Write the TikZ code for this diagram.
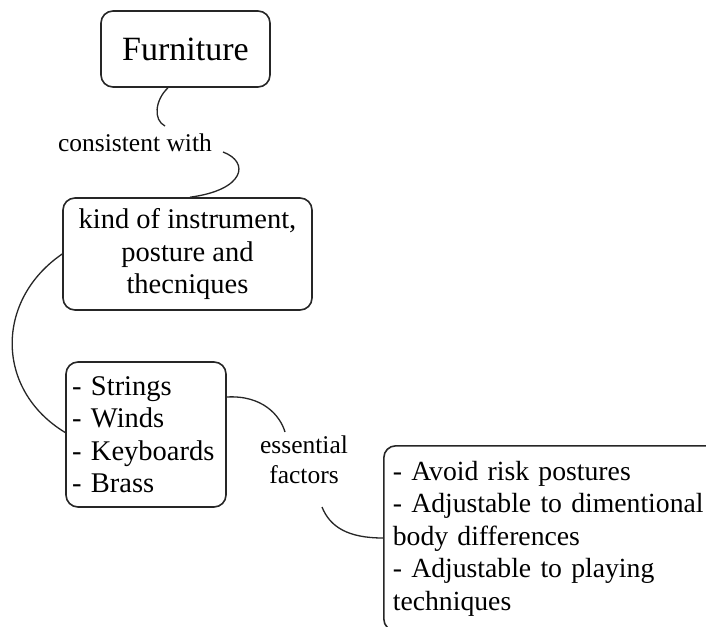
\documentclass[tikz,border=0pt]{standalone}
\usepackage{fontspec}
\setmainfont{Liberation Serif}
\usetikzlibrary{calc}
\begin{document}
\begin{tikzpicture}[x=1pt,y=-1pt,
  box/.style={draw=black!85, line width=1.6pt, rounded corners=12pt, inner sep=0pt},
  link/.style={draw=black!85, line width=1.3pt},
  body/.style={font=\fontsize{28.5}{32.5}\selectfont},
  tag/.style={font=\fontsize{25.5}{30}\selectfont, inner sep=0pt, align=center}]
\useasboundingbox (0,0) rectangle (706,626);
\fill[white] (0,0) rectangle (706,626);

% concept boxes
\node[box, minimum width=169pt, minimum height=76pt,
      font=\fontsize{34}{40}\selectfont] (furn) at (185.5,49) {Furniture};
\node[box, body, align=center, minimum width=249pt, minimum height=112pt]
      (kind) at (187.5,254) {kind of instrument,\\posture and\\thecniques};
\node[box, body, align=left, text width=148pt, inner xsep=6pt, minimum height=145pt]
      (instr) at (146,434.5) {- Strings\\- Winds\\- Keyboards\\- Brass};
\node[box, align=left, anchor=north west, text width=330pt,
      inner xsep=9pt, inner ysep=15pt, font=\fontsize{27.7}{32.5}\selectfont]
      (req) at (383,445) {- Avoid risk postures\\- Adjustable to dimentional\\body differences\\- Adjustable to playing\\techniques};

% link labels
\node[tag] (lblA) at (135,143) {consistent with};
\node[tag] (lblB) at (304,460) {essential\\factors};

% free ends of the links next to their labels
\coordinate (a1) at (165,126);
\coordinate (a2) at (223,152);
\coordinate (b1) at (285,432);
\coordinate (b2) at (322,507);

% links
\draw[link] ([xshift=-17.5pt]furn.south) .. controls (155,100) and (153,120) .. (a1);
\draw[link] (a2) .. controls (250,162) and (245,190) .. ([xshift=2.5pt]kind.north);
\draw[link] (kind.west) .. controls (-5,300) and (-5,390) .. ([yshift=2pt]instr.west);
\draw[link] ([yshift=37.5pt]instr.east) .. controls (262,395) and (280,415) .. (b1);
\draw[link] (b2) .. controls (330,527) and (348,538) .. ([yshift=-93pt]req.north west);
\end{tikzpicture}
\end{document}
